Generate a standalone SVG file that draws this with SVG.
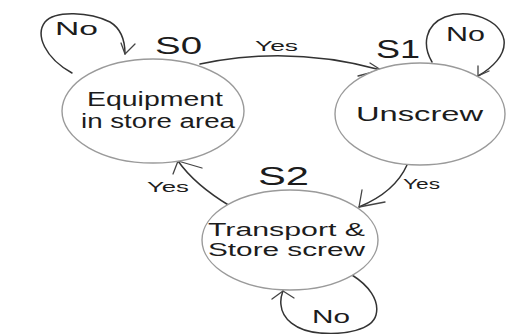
<svg xmlns="http://www.w3.org/2000/svg" width="506" height="334" viewBox="0 0 506 334">
<style>
.state{fill:#fff;stroke:#9a9a9a;stroke-width:1.4}
.lbl{font-family:"Liberation Sans",Arial,sans-serif;fill:#1c1c1c}
.edge{fill:none;stroke:#333;stroke-width:1.5;stroke-linecap:round;stroke-linejoin:round}
.head{fill:none;stroke:#444;stroke-width:1.3;stroke-linecap:round;stroke-linejoin:round}
</style>
<rect width="506" height="334" fill="#fff"/>
<g id="connectors">
<path class="edge" d="M72,73 C45,58 35,35 45,22 C55,10 90,12 110,22 C120,28 125,40 125,54"/>
<path class="head" d="M121,43 L125,54 L135,44"/>
<path class="edge" d="M200,64 Q290,45 381,70"/>
<path class="head" d="M370,63 L381,70 L358,76"/>
<path class="edge" d="M432,62 C422,45 425,25 445,17 C470,8 500,20 504,40 C506,55 492,68 478,76"/>
<path class="head" d="M478,66 L478,76 L489,71"/>
<path class="edge" d="M407,165 Q395,192 359,207"/>
<path class="head" d="M362,190 L359,207 L385,202"/>
<path class="edge" d="M230,206 Q195,185 178,161"/>
<path class="head" d="M202,168 L178,161 L173,174"/>
<path class="edge" d="M352,275 C368,285 380,300 376,315 C372,330 345,335 320,333 C295,331 282,318 281,305 C280,298 282,294 283,291"/>
<path class="head" d="M272,299 L283,291 L294,298"/>
<text class="lbl" x="55" y="35" font-size="19" textLength="43" lengthAdjust="spacingAndGlyphs">No</text>
<text class="lbl" x="255" y="51" font-size="14" textLength="43" lengthAdjust="spacingAndGlyphs">Yes</text>
<text class="lbl" x="446" y="41" font-size="20" textLength="39" lengthAdjust="spacingAndGlyphs">No</text>
<text class="lbl" x="403" y="189" font-size="14" textLength="37" lengthAdjust="spacingAndGlyphs">Yes</text>
<text class="lbl" x="147" y="192" font-size="14" textLength="42" lengthAdjust="spacingAndGlyphs">Yes</text>
<text class="lbl" x="312" y="323" font-size="19" textLength="38" lengthAdjust="spacingAndGlyphs">No</text>
</g>
<g id="S0">
<ellipse class="state" cx="153" cy="111" rx="91" ry="52"/>
<text class="lbl" x="155" y="54" font-size="24" textLength="47" lengthAdjust="spacingAndGlyphs">S0</text>
<text class="lbl" x="87" y="106" font-size="20" textLength="136" lengthAdjust="spacingAndGlyphs">Equipment</text>
<text class="lbl" x="81" y="128" font-size="20" textLength="154" lengthAdjust="spacingAndGlyphs">in store area</text>
</g>
<g id="S1">
<ellipse class="state" cx="420" cy="114" rx="85" ry="51"/>
<text class="lbl" x="376" y="58" font-size="25" textLength="44" lengthAdjust="spacingAndGlyphs">S1</text>
<text class="lbl" x="356" y="121" font-size="20" textLength="127" lengthAdjust="spacingAndGlyphs">Unscrew</text>
</g>
<g id="S2">
<ellipse class="state" cx="290" cy="240" rx="88" ry="50"/>
<text class="lbl" x="258" y="185" font-size="26" textLength="51" lengthAdjust="spacingAndGlyphs">S2</text>
<text class="lbl" x="208" y="236" font-size="18" textLength="157" lengthAdjust="spacingAndGlyphs">Transport &amp;</text>
<text class="lbl" x="208" y="256" font-size="18" textLength="157" lengthAdjust="spacingAndGlyphs">Store screw</text>
</g>
</svg>
